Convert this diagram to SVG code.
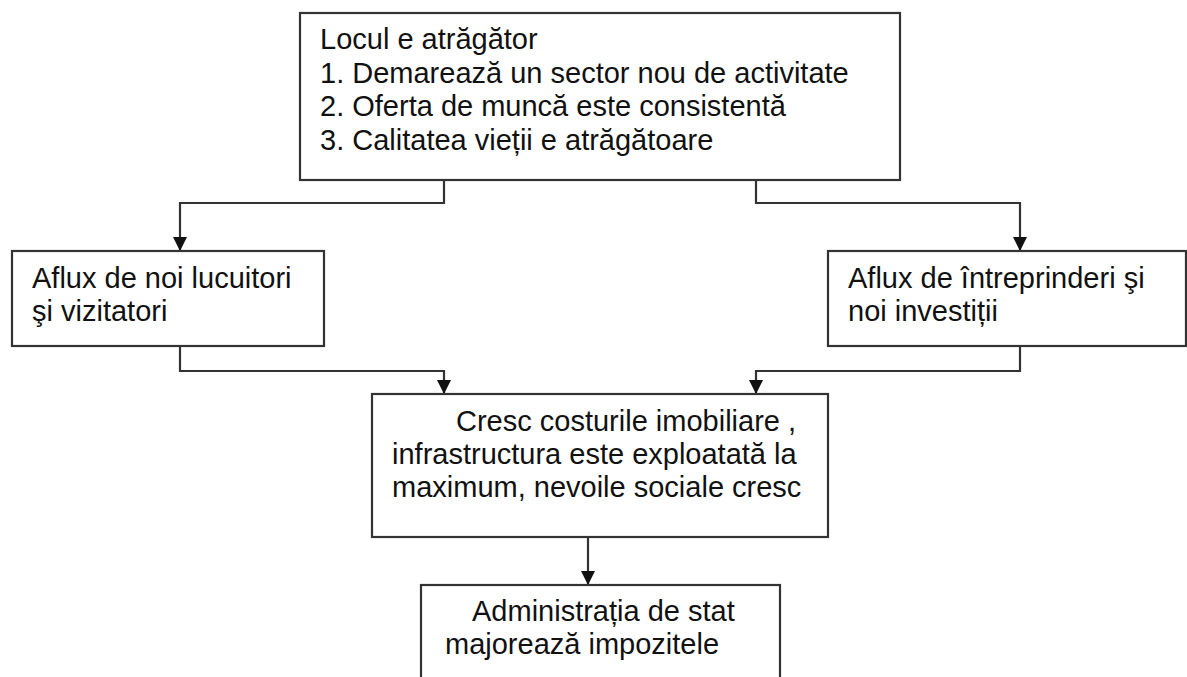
<svg xmlns="http://www.w3.org/2000/svg" width="1187" height="677" viewBox="0 0 1187 677">
<style>
.box{fill:#fff;stroke:#333;stroke-width:2.2}
.t{font-family:"Liberation Sans",Arial,sans-serif;font-size:29px;fill:#111}
.c{fill:none;stroke:#333;stroke-width:2.2}
</style>
<defs>
<marker id="ah" viewBox="0 0 14 14" markerWidth="14" markerHeight="14" refX="14" refY="7" orient="auto" markerUnits="userSpaceOnUse">
<path d="M0,0 L14,7 L0,14 z" fill="#111"/>
</marker>
</defs>
<rect width="1187" height="677" fill="#fff"/>
<g id="connectors">
<path class="c" d="M444,180 V203 H180 V251" marker-end="url(#ah)"/>
<path class="c" d="M756,180 V203 H1020 V251" marker-end="url(#ah)"/>
<path class="c" d="M180,346 V371 H444 V394" marker-end="url(#ah)"/>
<path class="c" d="M1020,346 V371 H756 V394" marker-end="url(#ah)"/>
<path class="c" d="M588,537 V585" marker-end="url(#ah)"/>
</g>
<g id="node-top">
<rect class="box" x="300" y="13" width="600" height="167"/>
<text class="t" x="320" y="49">Locul e atrăgător</text>
<text class="t" x="320" y="83">1. Demarează un sector nou de activitate</text>
<text class="t" x="320" y="116">2. Oferta de muncă este consistentă</text>
<text class="t" x="320" y="150">3. Calitatea vieții e atrăgătoare</text>
</g>
<g id="node-left">
<rect class="box" x="12" y="251" width="312" height="95"/>
<text class="t" x="32" y="288">Aflux de noi lucuitori</text>
<text class="t" x="32" y="321">şi vizitatori</text>
</g>
<g id="node-right">
<rect class="box" x="828" y="251" width="358" height="95"/>
<text class="t" x="848" y="288">Aflux de întreprinderi şi</text>
<text class="t" x="848" y="321">noi investiții</text>
</g>
<g id="node-middle">
<rect class="box" x="372" y="394" width="456" height="143"/>
<text class="t" x="456" y="431">Cresc costurile imobiliare ,</text>
<text class="t" x="392" y="464">infrastructura este exploatată la</text>
<text class="t" x="392" y="497">maximum, nevoile sociale cresc</text>
</g>
<g id="node-bottom">
<rect class="box" x="421" y="585" width="359" height="110"/>
<text class="t" x="472" y="621">Administrația de stat</text>
<text class="t" x="445" y="654">majorează impozitele</text>
</g>
</svg>
